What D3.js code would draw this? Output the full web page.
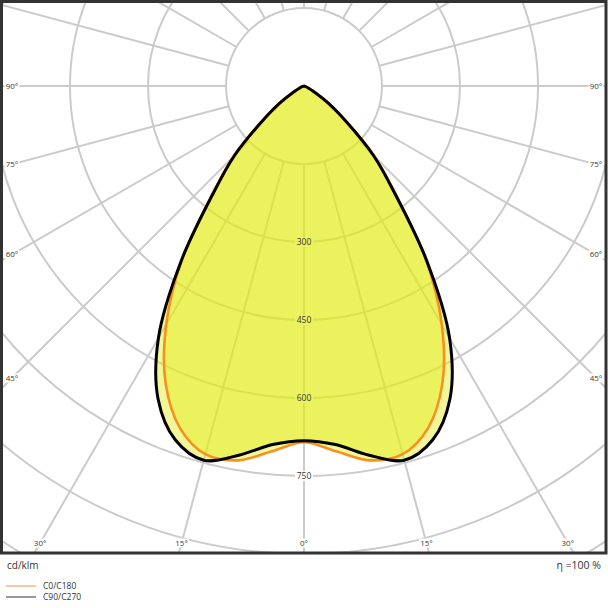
<!DOCTYPE html>
<html><head><meta charset="utf-8">
<script src="https://cdn.jsdelivr.net/npm/d3@7"></script>
<style>html,body{margin:0;padding:0;background:#fff;}svg{display:block;font-family:"Open Sans",sans-serif;}</style>
</head><body>
<svg id="c" width="608" height="608"></svg>
<script>
// ---- data ----
const gammas   = [0,5,10,15,20,25,30,35,40,45,50,55,60,65,70,75,80,85,90];
const c0c180   = [685,705,731,733,699,630,530,410,278,193,108,57,24,10,4,2,1,0,0];
const c90c270  = [682,692,721,745,724,664,560,413,275,189,104,55,22,9,4,2,1,0,0];
const radialTicks  = [150,300,450,600,750,900,1050,1200];
const radialLabels = [300,450,600,750];
const spokeAngles  = d3.range(0,360,15);
const sideLabels   = [90,75,60,45];
const bottomLabels = [30,15,0];
const legendItems  = ["C0/C180","C90/C270"];
const unitLabel = "cd/klm";
const etaLabel  = "η =100 %";

// ---- layout ----
const W=608, cx=304, cy=86;
const frame={x:1.5,y:1.5,w:604.5,h:551.5};
const r = d3.scaleLinear().domain([0,750]).range([0,390]);
const svg = d3.select("#c");
const rad = d=>d*Math.PI/180;
const pt = (g,v)=>[cx + r(v)*Math.sin(rad(g)), cy + r(v)*Math.cos(rad(g))];

svg.append("rect").attr("width",W).attr("height",W).attr("fill","#fff");
svg.append("clipPath").attr("id","fc").append("rect")
  .attr("x",frame.x).attr("y",frame.y).attr("width",frame.w).attr("height",frame.h);

const grid = svg.append("g").attr("clip-path","url(#fc)");
grid.selectAll("circle").data(radialTicks).join("circle")
  .attr("cx",cx).attr("cy",cy).attr("r",d=>r(d))
  .attr("fill","none").attr("stroke","#cbcbcb").attr("stroke-width",2);
grid.selectAll("line").data(spokeAngles).join("line")
  .attr("x1",d=>pt(d,150)[0]).attr("y1",d=>pt(d,150)[1])
  .attr("x2",d=>pt(d,1500)[0]).attr("y2",d=>pt(d,1500)[1])
  .attr("stroke","#cbcbcb").attr("stroke-width",2);

// radial label backgrounds (under fills)
const rl = svg.append("g");
rl.selectAll("rect").data(radialLabels).join("rect")
  .attr("x",cx-9).attr("y",d=>cy+r(d)-5).attr("width",18).attr("height",10).attr("fill","#fff");

// curves
function series(vals){
  const pts=[];
  for(let i=gammas.length-1;i>=0;i--) pts.push([-gammas[i],vals[i]]);
  for(let i=1;i<gammas.length;i++) pts.push([gammas[i],vals[i]]);
  return pts;
}
const line = d3.lineRadial()
  .angle(d=>Math.PI - rad(d[0]))
  .radius(d=>r(d[1]))
  .curve(d3.curveCatmullRom.alpha(0.5));
const plot = svg.append("g").attr("transform",`translate(${cx},${cy})`);
const s0=series(c0c180), s90=series(c90c270);
const fillCol="rgb(226,236,12)", fillOp=0.42;
plot.append("path").attr("d",line(s90)).attr("fill",fillCol).attr("fill-opacity",fillOp);
plot.append("path").attr("d",line(s0)).attr("fill",fillCol).attr("fill-opacity",fillOp);
plot.append("path").attr("d",line(s0)).attr("fill","none").attr("stroke","#f7901e").attr("stroke-width",2.6).attr("stroke-linejoin","round");
plot.append("path").attr("d",line(s90)).attr("fill","none").attr("stroke","#000").attr("stroke-width",3).attr("stroke-linejoin","round");

// radial labels text
svg.append("g").selectAll("text").data(radialLabels).join("text")
  .attr("x",cx).attr("y",d=>cy+r(d)).attr("dy","0.35em")
  .attr("text-anchor","middle").attr("font-size",8.5).attr("fill","#333").text(d=>d);

// angle labels
const al=[];
sideLabels.forEach(a=>{
  const dx=292, dy=dx/Math.tan(rad(a));
  al.push({x:cx-dx,y:cy+dy,t:a+"°"});
  al.push({x:cx+dx,y:cy+dy,t:a+"°"});
});
bottomLabels.forEach(a=>{
  const dy=543-cy, dx=dy*Math.tan(rad(a));
  al.push({x:cx-dx,y:543,t:a+"°"});
  if(a!==0) al.push({x:cx+dx,y:543,t:a+"°"});
});
const ag=svg.append("g");
ag.selectAll("rect").data(al).join("rect")
  .attr("x",d=>d.x-7.5).attr("y",d=>d.y-4.5).attr("width",15).attr("height",9).attr("fill","#fff");
ag.selectAll("text").data(al).join("text")
  .attr("x",d=>d.x).attr("y",d=>d.y).attr("dy","0.35em").attr("text-anchor","middle")
  .attr("font-size",8).attr("fill","#3a3a3a").text(d=>d.t);

// frame
svg.append("rect").attr("x",frame.x).attr("y",frame.y).attr("width",frame.w).attr("height",frame.h)
  .attr("fill","none").attr("stroke","#333").attr("stroke-width",3);

// legend
svg.append("text").attr("x",7).attr("y",569).attr("font-size",10).attr("fill","#333").text(unitLabel);
svg.append("text").attr("x",601).attr("y",569).attr("text-anchor","end").attr("font-size",10.5).attr("fill","#333").text(etaLabel);
const lc=["#f5a46c","#555"];
const lg=svg.append("g");
lg.selectAll("line").data(legendItems).join("line")
  .attr("x1",6).attr("x2",36).attr("y1",(d,i)=>586+i*11).attr("y2",(d,i)=>586+i*11)
  .attr("stroke",(d,i)=>lc[i]).attr("stroke-width",1.2);
lg.selectAll("text").data(legendItems).join("text")
  .attr("x",43).attr("y",(d,i)=>586+i*11).attr("dy","0.35em")
  .attr("font-size",8.5).attr("fill","#333").text(d=>d);
</script>
</body></html>
